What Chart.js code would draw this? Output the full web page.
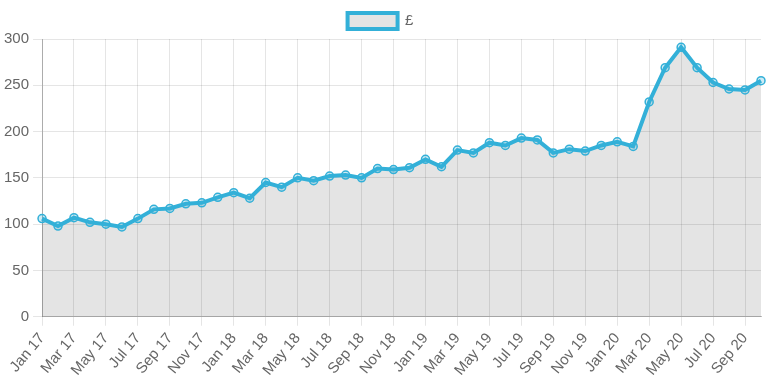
<!DOCTYPE html>
<html lang="en">
<head>
    <meta charset="UTF-8">
    <title>Price chart</title>
    <style>
        body, html {
            margin: 0;
            padding: 0;
            background: #fff;
            overflow: hidden;
        }
        #wrap {
            width: 767px;
            height: 383px;
        }
    </style>
</head>
<body>
<div id="wrap">
    <canvas id="priceChart"></canvas>
</div>

<script src="https://cdn.jsdelivr.net/npm/chart.js"></script>
<script>
    const months = [
        'Jan 17', 'Feb 17', 'Mar 17', 'Apr 17', 'May 17', 'Jun 17', 'Jul 17', 'Aug 17', 'Sep 17', 'Oct 17', 'Nov 17', 'Dec 17',
        'Jan 18', 'Feb 18', 'Mar 18', 'Apr 18', 'May 18', 'Jun 18', 'Jul 18', 'Aug 18', 'Sep 18', 'Oct 18', 'Nov 18', 'Dec 18',
        'Jan 19', 'Feb 19', 'Mar 19', 'Apr 19', 'May 19', 'Jun 19', 'Jul 19', 'Aug 19', 'Sep 19', 'Oct 19', 'Nov 19', 'Dec 19',
        'Jan 20', 'Feb 20', 'Mar 20', 'Apr 20', 'May 20', 'Jun 20', 'Jul 20', 'Aug 20', 'Sep 20', 'Oct 20'
    ];
    const prices = [
        106, 98, 107, 102, 100, 97, 106, 116, 117, 122, 123, 129,
        134, 128, 145, 140, 150, 147, 152, 153, 150, 160, 159, 161,
        170, 162, 180, 177, 188, 185, 193, 191, 177, 181, 179, 185,
        189, 184, 232, 269, 291, 269, 253, 246, 245, 255
    ];
    const seriesLabel = '£';

    const blue = '#33b0d8';
    const tickFont = { family: 'Liberation Sans', size: 15 };

    new Chart(document.getElementById('priceChart'), {
        type: 'line',
        data: {
            labels: months,
            datasets: [{
                label: seriesLabel,
                data: prices,
                borderColor: blue,
                borderWidth: 4,
                backgroundColor: 'rgba(0,0,0,0.105)',
                fill: true,
                tension: 0,
                pointRadius: 4,
                pointBorderWidth: 1.5,
                pointBorderColor: blue,
                pointBackgroundColor: 'rgba(51,176,216,0.25)'
            }]
        },
        options: {
            responsive: true,
            maintainAspectRatio: false,
            animation: false,
            layout: { padding: { right: 6, top: 2 } },
            plugins: {
                legend: {
                    labels: {
                        boxWidth: 50,
                        boxHeight: 16,
                        padding: 11,
                        color: '#666',
                        font: { family: 'Liberation Sans', size: 15 }
                    }
                },
                tooltip: { enabled: false }
            },
            scales: {
                x: {
                    offset: false,
                    grid: {
                        color: 'rgba(0,0,0,0.1)',
                        tickLength: 9
                    },
                    border: { color: 'rgba(0,0,0,0.25)' },
                    ticks: {
                        autoSkip: false,
                        maxRotation: 50,
                        minRotation: 50,
                        padding: 4,
                        color: '#666',
                        font: tickFont,
                        callback: function(value, index) {
                            return index % 2 === 0 ? months[index] : null;
                        }
                    }
                },
                y: {
                    min: 0,
                    max: 300,
                    grid: {
                        color: 'rgba(0,0,0,0.1)',
                        tickLength: 9
                    },
                    border: { color: 'rgba(0,0,0,0.25)' },
                    ticks: {
                        stepSize: 50,
                        padding: 4,
                        color: '#666',
                        font: tickFont
                    }
                }
            }
        }
    });
</script>
</body>
</html>
